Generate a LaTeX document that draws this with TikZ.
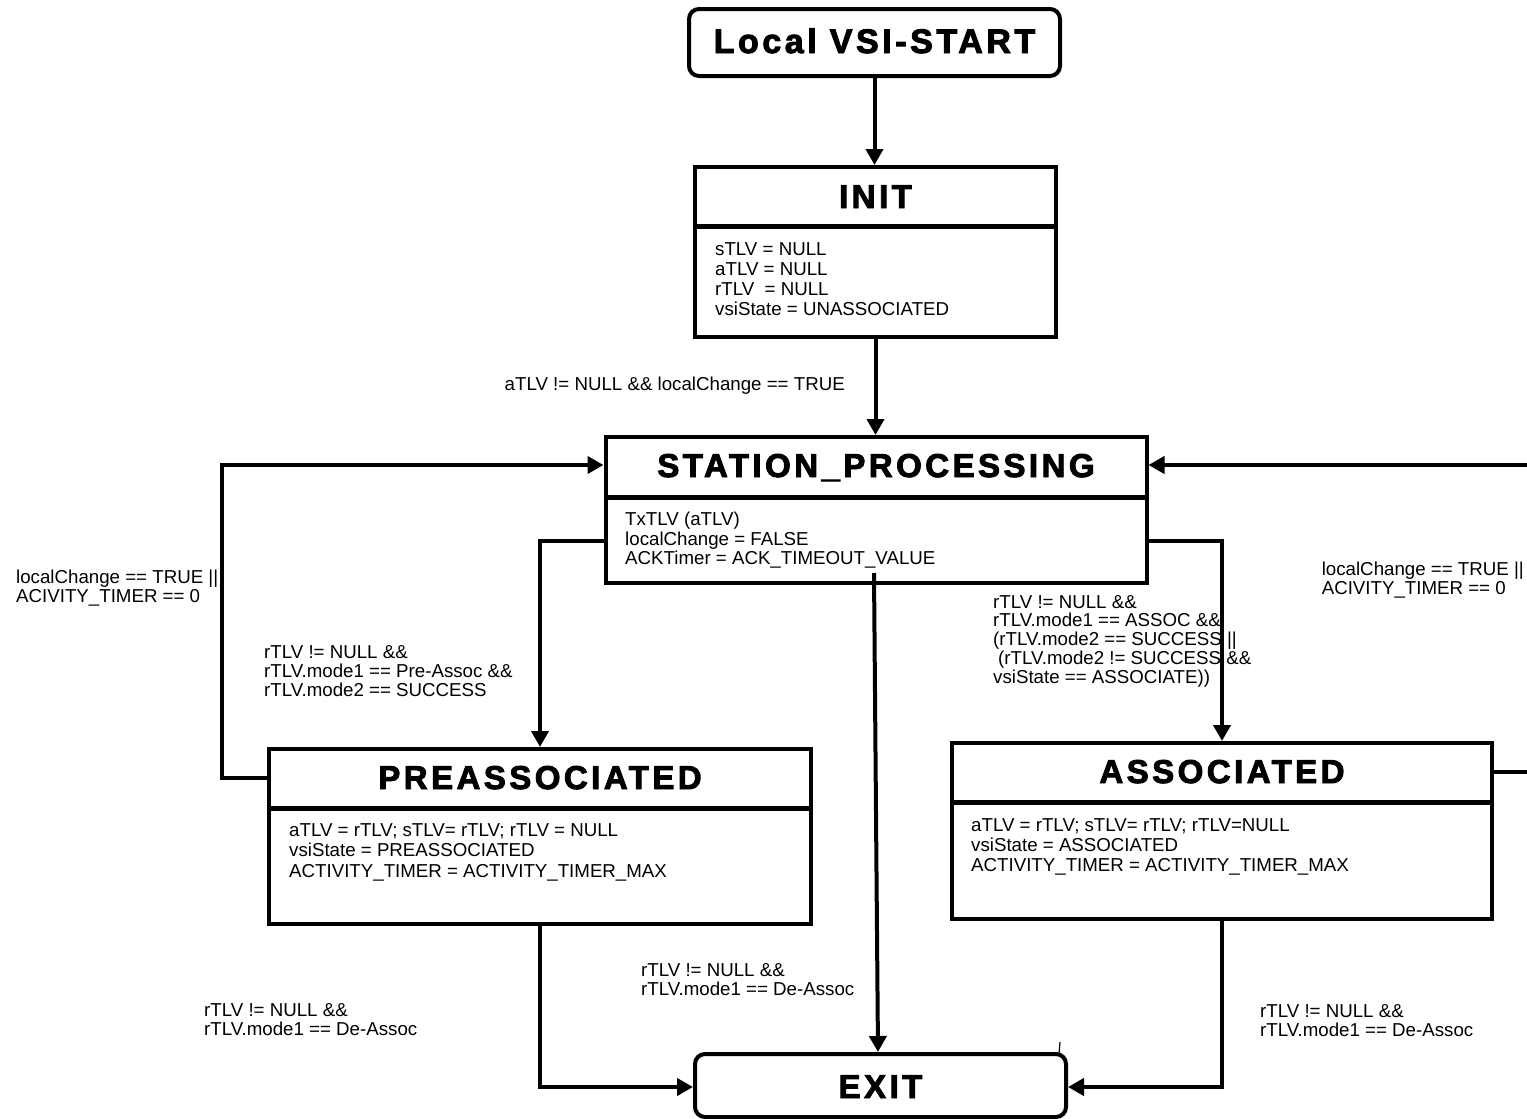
\documentclass[tikz,border=0pt]{standalone}
\usepackage{fontspec}
\setmainfont{Liberation Sans}
\newfontfamily\hdfont[LetterSpace=10.5,FakeBold=2.8]{Liberation Sans}
\usetikzlibrary{arrows.meta,calc}
\begin{document}
\begin{tikzpicture}[x=1pt,y=-1pt,
  sbox/.style={draw, line width=4pt, rectangle, inner sep=0pt},
  rbox/.style={draw, line width=4pt, rectangle, rounded corners=10pt, inner sep=0pt},
  divline/.style={line width=5pt},
  hd/.style={anchor=base, inner sep=0pt, font=\hdfont\bfseries\fontsize{33}{36}\selectfont},
  body/.style={anchor=north west, inner sep=0pt, align=left, font=\fontsize{18.7}{20}\selectfont},
  cond/.style={anchor=north west, inner sep=0pt, align=left, font=\fontsize{18.7}{19}\selectfont},
  arr/.style={line width=4pt, -{Triangle[length=16pt,width=17pt]}},
  conn/.style={line width=4pt},
  tick/.style={line width=1.2pt}
]
\useasboundingbox (0,0) rectangle (1527,1119);
\clip (0,0) rectangle (1527,1119);

% Local VSI-START
\node[rbox, minimum width=371pt, minimum height=67pt] (start) at (874.5,42.5) {};
\node[hd, font=\hdfont\bfseries\fontsize{34}{36}\selectfont] (startT) at (874.5,53) {Local VSI-START};

% INIT
\node[sbox, minimum width=361pt, minimum height=170pt] (init) at (875.5,252) {};
\draw[divline] (init.west |- 0,226) -- (init.east |- 0,226);
\node[hd] (initT) at (875.5,208) {INIT};
\node[body] (initB) at (715,242) {sTLV = NULL\\aTLV = NULL\\rTLV \ = NULL\\vsiState = UNASSOCIATED};

% STATION_PROCESSING
\node[sbox, minimum width=541pt, minimum height=146pt] (sp) at (876,510) {};
\draw[divline] (sp.west |- 0,497) -- (sp.east |- 0,497);
\node[hd] (spT) at (876,477) {STATION\_PROCESSING};
\node[body, font=\fontsize{18.7}{19.5}\selectfont] (spB) at (625,512) {TxTLV (aTLV)\\localChange = FALSE\\ACKTimer = ACK\_TIMEOUT\_VALUE};

% PREASSOCIATED
\node[sbox, minimum width=542pt, minimum height=175pt] (pre) at (540,836.5) {};
\draw[divline] (pre.west |- 0,808) -- (pre.east |- 0,808);
\node[hd] (preT) at (540,789) {PREASSOCIATED};
\node[body, font=\fontsize{18.7}{20.5}\selectfont] (preB) at (289,823) {aTLV = rTLV; sTLV= rTLV; rTLV = NULL\\vsiState = PREASSOCIATED\\ACTIVITY\_TIMER = ACTIVITY\_TIMER\_MAX};

% ASSOCIATED
\node[sbox, minimum width=540pt, minimum height=176pt] (asc) at (1222,831) {};
\draw[divline] (asc.west |- 0,802) -- (asc.east |- 0,802);
\node[hd] (ascT) at (1222,783) {ASSOCIATED};
\node[body] (ascB) at (971,818) {aTLV = rTLV; sTLV= rTLV; rTLV=NULL\\vsiState = ASSOCIATED\\ACTIVITY\_TIMER = ACTIVITY\_TIMER\_MAX};

% EXIT
\node[rbox, minimum width=371pt, minimum height=63pt] (exit) at (880.5,1085.5) {};
\node[hd] (exitT) at (880.5,1098) {EXIT};
\draw[tick] (exit.north east) ++(-9,2) coordinate (tk) -- ++(1,-12);

% connectors
\draw[arr] (start.south) -- (start.south |- init.north);
\draw[arr] (init.south) -- (init.south |- sp.north);
\draw[arr] (pre.west |- 0,778) -| (222,465) -- (sp.west |- 0,465);
\draw[arr] (asc.east |- 0,772) -| (1545,465) -- (sp.east |- 0,465);
\draw[arr] (sp.west |- 0,541) -| (pre.north);
\draw[arr] (sp.east |- 0,541) -| (asc.north);
\draw[arr] ($(sp.south)+(-2,-12)$) -- (exit.north -| 878,0);
\draw[arr] (pre.south) |- (exit.west |- 0,1087);
\draw[arr] (asc.south) |- (exit.east |- 0,1087);

% labels
\node[cond, anchor=north east] (l1) at (845,377) {aTLV != NULL \&\& localChange == TRUE};
\node[cond] (l2) at (16,570) {localChange == TRUE ||\\ACIVITY\_TIMER == 0};
\node[cond, anchor=north east] (l3) at (1524,562) {localChange == TRUE ||\\ACIVITY\_TIMER == 0\hphantom{ ||}};
\node[cond] (l4) at (264,645) {rTLV != NULL \&\&\\rTLV.mode1 == Pre-Assoc \&\&\\rTLV.mode2 == SUCCESS};
\node[cond, font=\fontsize{18.7}{18.75}\selectfont] (l5) at (993,595) {rTLV != NULL \&\&\\rTLV.mode1 == ASSOC \&\&\\(rTLV.mode2 == SUCCESS ||\\\hspace*{5pt}(rTLV.mode2 != SUCCESS \&\&\\vsiState == ASSOCIATE))};
\node[cond] (l6) at (204,1003) {rTLV != NULL \&\&\\rTLV.mode1 == De-Assoc};
\node[cond] (l7) at (641,963) {rTLV != NULL \&\&\\rTLV.mode1 == De-Assoc};
\node[cond] (l8) at (1260,1004) {rTLV != NULL \&\&\\rTLV.mode1 == De-Assoc};
\end{tikzpicture}
\end{document}
